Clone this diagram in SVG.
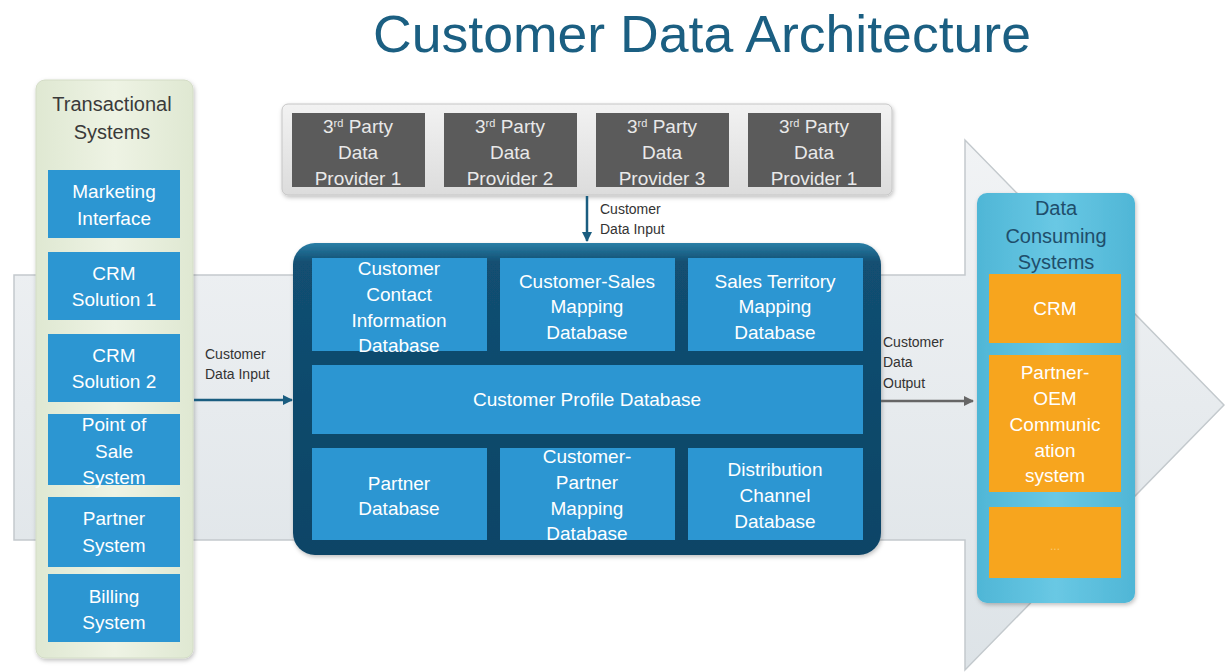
<svg xmlns="http://www.w3.org/2000/svg" width="1225" height="672" viewBox="0 0 1225 672">
<defs>
<linearGradient id="gArrow" x1="0" y1="0" x2="0" y2="1"><stop offset="0" stop-color="#f1f3f5"/><stop offset="1" stop-color="#dde3e7"/></linearGradient>
<linearGradient id="gGreen" x1="0" y1="0" x2="1" y2="0"><stop offset="0" stop-color="#dfe8d2"/><stop offset="0.5" stop-color="#eef3e4"/><stop offset="1" stop-color="#dfe8d2"/></linearGradient>
<linearGradient id="gGrey" x1="0" y1="0" x2="0" y2="1"><stop offset="0" stop-color="#f2f2f2"/><stop offset="1" stop-color="#dcdcdc"/></linearGradient>
<linearGradient id="gDark" x1="0" y1="0" x2="0" y2="1"><stop offset="0" stop-color="#2a7ea6"/><stop offset="0.06" stop-color="#124f72"/><stop offset="1" stop-color="#0c4466"/></linearGradient>
<linearGradient id="gCyan" x1="0" y1="0" x2="1" y2="0"><stop offset="0" stop-color="#4fb6d6"/><stop offset="0.5" stop-color="#69c8e4"/><stop offset="1" stop-color="#4fb6d6"/></linearGradient>
<marker id="mBlue" viewBox="0 0 10 10" refX="9" refY="5" markerWidth="4" markerHeight="4" orient="auto"><path d="M0,0 L10,5 L0,10 Z" fill="#1a5d80"/></marker>
<marker id="mGrey" viewBox="0 0 10 10" refX="9" refY="5" markerWidth="4" markerHeight="4" orient="auto"><path d="M0,0 L10,5 L0,10 Z" fill="#666"/></marker>
<filter id="sh" x="-10%" y="-10%" width="120%" height="120%"><feDropShadow dx="1" dy="2" stdDeviation="2" flood-color="#000" flood-opacity="0.25"/></filter>
</defs>
<style>
text{font-family:"Liberation Sans",Arial,sans-serif}
.w{fill:#ffffff;font-size:19px;text-anchor:middle}
.pv{fill:#e9e9e9;font-size:19px;text-anchor:middle}
.blue{fill:#2c96d2}
.grey{fill:#5b5b5b}
.org{fill:#f7a51e}
.lbl{fill:#333;font-size:14px}
.hd{font-size:20px;text-anchor:middle}
.sup{font-size:11px}
</style>

<g id="background-arrow">
<path d="M14,275 L965,275 L965,140 L1224,405 L965,670 L965,540 L14,540 Z" fill="url(#gArrow)" stroke="#c3c9cd" stroke-width="1.5"/>
</g>

<text x="702" y="52" font-size="52" fill="#1b5f82" text-anchor="middle" textLength="658" lengthAdjust="spacingAndGlyphs">Customer Data Architecture</text>

<g id="transactional-systems">
<rect x="36" y="80" width="157" height="578" rx="9" fill="url(#gGreen)" stroke="#d3dcc6" filter="url(#sh)"/>
<text class="hd" x="112" y="111" fill="#3a3a3a">Transactional</text>
<text class="hd" x="112" y="139" fill="#3a3a3a">Systems</text>
</g>
<g id="marketing-interface"><rect class="blue" x="48" y="170" width="132" height="68"/><text class="w" x="114" y="198">Marketing</text><text class="w" x="114" y="225">Interface</text></g>
<g id="crm-solution-1"><rect class="blue" x="48" y="252" width="132" height="68"/><text class="w" x="114" y="280">CRM</text><text class="w" x="114" y="306">Solution 1</text></g>
<g id="crm-solution-2"><rect class="blue" x="48" y="334" width="132" height="68"/><text class="w" x="114" y="362">CRM</text><text class="w" x="114" y="388">Solution 2</text></g>
<g id="point-of-sale"><rect class="blue" x="48" y="414" width="132" height="71"/><text class="w" x="114" y="431">Point of</text><text class="w" x="114" y="458">Sale</text><text class="w" x="114" y="484">System</text></g>
<g id="partner-system"><rect class="blue" x="48" y="497" width="132" height="70"/><text class="w" x="114" y="525">Partner</text><text class="w" x="114" y="552">System</text></g>
<g id="billing-system"><rect class="blue" x="48" y="574" width="132" height="68"/><text class="w" x="114" y="603">Billing</text><text class="w" x="114" y="629">System</text></g>

<g id="third-party-providers">
<rect x="282" y="104" width="610" height="91" rx="6" fill="url(#gGrey)" stroke="#c6c6c6" filter="url(#sh)"/>
</g>
<g id="provider-1"><rect class="grey" x="292" y="113" width="133" height="74"/><text class="pv" x="358" y="133">3<tspan class="sup" dy="-6">rd</tspan><tspan dy="6"> Party</tspan></text><text class="pv" x="358" y="159">Data</text><text class="pv" x="358" y="185">Provider 1</text></g>
<g id="provider-2"><rect class="grey" x="444" y="113" width="133" height="74"/><text class="pv" x="510" y="133">3<tspan class="sup" dy="-6">rd</tspan><tspan dy="6"> Party</tspan></text><text class="pv" x="510" y="159">Data</text><text class="pv" x="510" y="185">Provider 2</text></g>
<g id="provider-3"><rect class="grey" x="596" y="113" width="133" height="74"/><text class="pv" x="662" y="133">3<tspan class="sup" dy="-6">rd</tspan><tspan dy="6"> Party</tspan></text><text class="pv" x="662" y="159">Data</text><text class="pv" x="662" y="185">Provider 3</text></g>
<g id="provider-4"><rect class="grey" x="748" y="113" width="133" height="74"/><text class="pv" x="814" y="133">3<tspan class="sup" dy="-6">rd</tspan><tspan dy="6"> Party</tspan></text><text class="pv" x="814" y="159">Data</text><text class="pv" x="814" y="185">Provider 1</text></g>

<g id="customer-data-hub">
<rect x="293" y="243" width="588" height="312" rx="22" fill="url(#gDark)" filter="url(#sh)"/>
</g>
<g id="customer-contact-db"><rect class="blue" x="312" y="258" width="175" height="93"/><text class="w" x="399" y="275">Customer</text><text class="w" x="399" y="301">Contact</text><text class="w" x="399" y="327">Information</text><text class="w" x="399" y="352">Database</text></g>
<g id="customer-sales-db"><rect class="blue" x="500" y="258" width="175" height="93"/><text class="w" x="587" y="288">Customer-Sales</text><text class="w" x="587" y="313">Mapping</text><text class="w" x="587" y="339">Database</text></g>
<g id="sales-territory-db"><rect class="blue" x="688" y="258" width="175" height="93"/><text class="w" x="775" y="288">Sales Territory</text><text class="w" x="775" y="313">Mapping</text><text class="w" x="775" y="339">Database</text></g>
<g id="customer-profile-db"><rect class="blue" x="312" y="365" width="551" height="69"/><text class="w" x="587" y="406">Customer Profile Database</text></g>
<g id="partner-db"><rect class="blue" x="312" y="448" width="175" height="92"/><text class="w" x="399" y="490">Partner</text><text class="w" x="399" y="515">Database</text></g>
<g id="customer-partner-db"><rect class="blue" x="500" y="448" width="175" height="92"/><text class="w" x="587" y="463">Customer-</text><text class="w" x="587" y="489">Partner</text><text class="w" x="587" y="515">Mapping</text><text class="w" x="587" y="540">Database</text></g>
<g id="distribution-channel-db"><rect class="blue" x="688" y="448" width="175" height="92"/><text class="w" x="775" y="476">Distribution</text><text class="w" x="775" y="502">Channel</text><text class="w" x="775" y="528">Database</text></g>

<g id="data-consuming-systems">
<rect x="977" y="193" width="158" height="410" rx="10" fill="url(#gCyan)" filter="url(#sh)"/>
<text class="hd" x="1056" y="215" fill="#1f4e6b">Data</text>
<text class="hd" x="1056" y="243" fill="#1f4e6b">Consuming</text>
<text class="hd" x="1056" y="269" fill="#1f4e6b">Systems</text>
</g>
<g id="crm"><rect class="org" x="989" y="274" width="132" height="69"/><text class="w" x="1055" y="315">CRM</text></g>
<g id="partner-oem"><rect class="org" x="989" y="355" width="132" height="137"/><text class="w" x="1055" y="379">Partner-</text><text class="w" x="1055" y="405">OEM</text><text class="w" x="1055" y="431">Communic</text><text class="w" x="1055" y="457">ation</text><text class="w" x="1055" y="482">system</text></g>
<g id="more"><rect class="org" x="989" y="507" width="132" height="71"/><text x="1055" y="550" font-size="12" fill="#f9c870" text-anchor="middle">...</text></g>

<g id="connectors">
<line x1="587" y1="196" x2="587" y2="241" stroke="#1a5d80" stroke-width="2.5" marker-end="url(#mBlue)"/>
<text class="lbl" x="600" y="214">Customer</text>
<text class="lbl" x="600" y="234">Data Input</text>
<line x1="194" y1="400" x2="292" y2="400" stroke="#1a5d80" stroke-width="2.5" marker-end="url(#mBlue)"/>
<text class="lbl" x="205" y="359">Customer</text>
<text class="lbl" x="205" y="379">Data Input</text>
<line x1="881" y1="401" x2="973" y2="401" stroke="#666" stroke-width="2.5" marker-end="url(#mGrey)"/>
<text class="lbl" x="883" y="347">Customer</text>
<text class="lbl" x="883" y="367">Data</text>
<text class="lbl" x="883" y="388">Output</text>
</g>
</svg>
